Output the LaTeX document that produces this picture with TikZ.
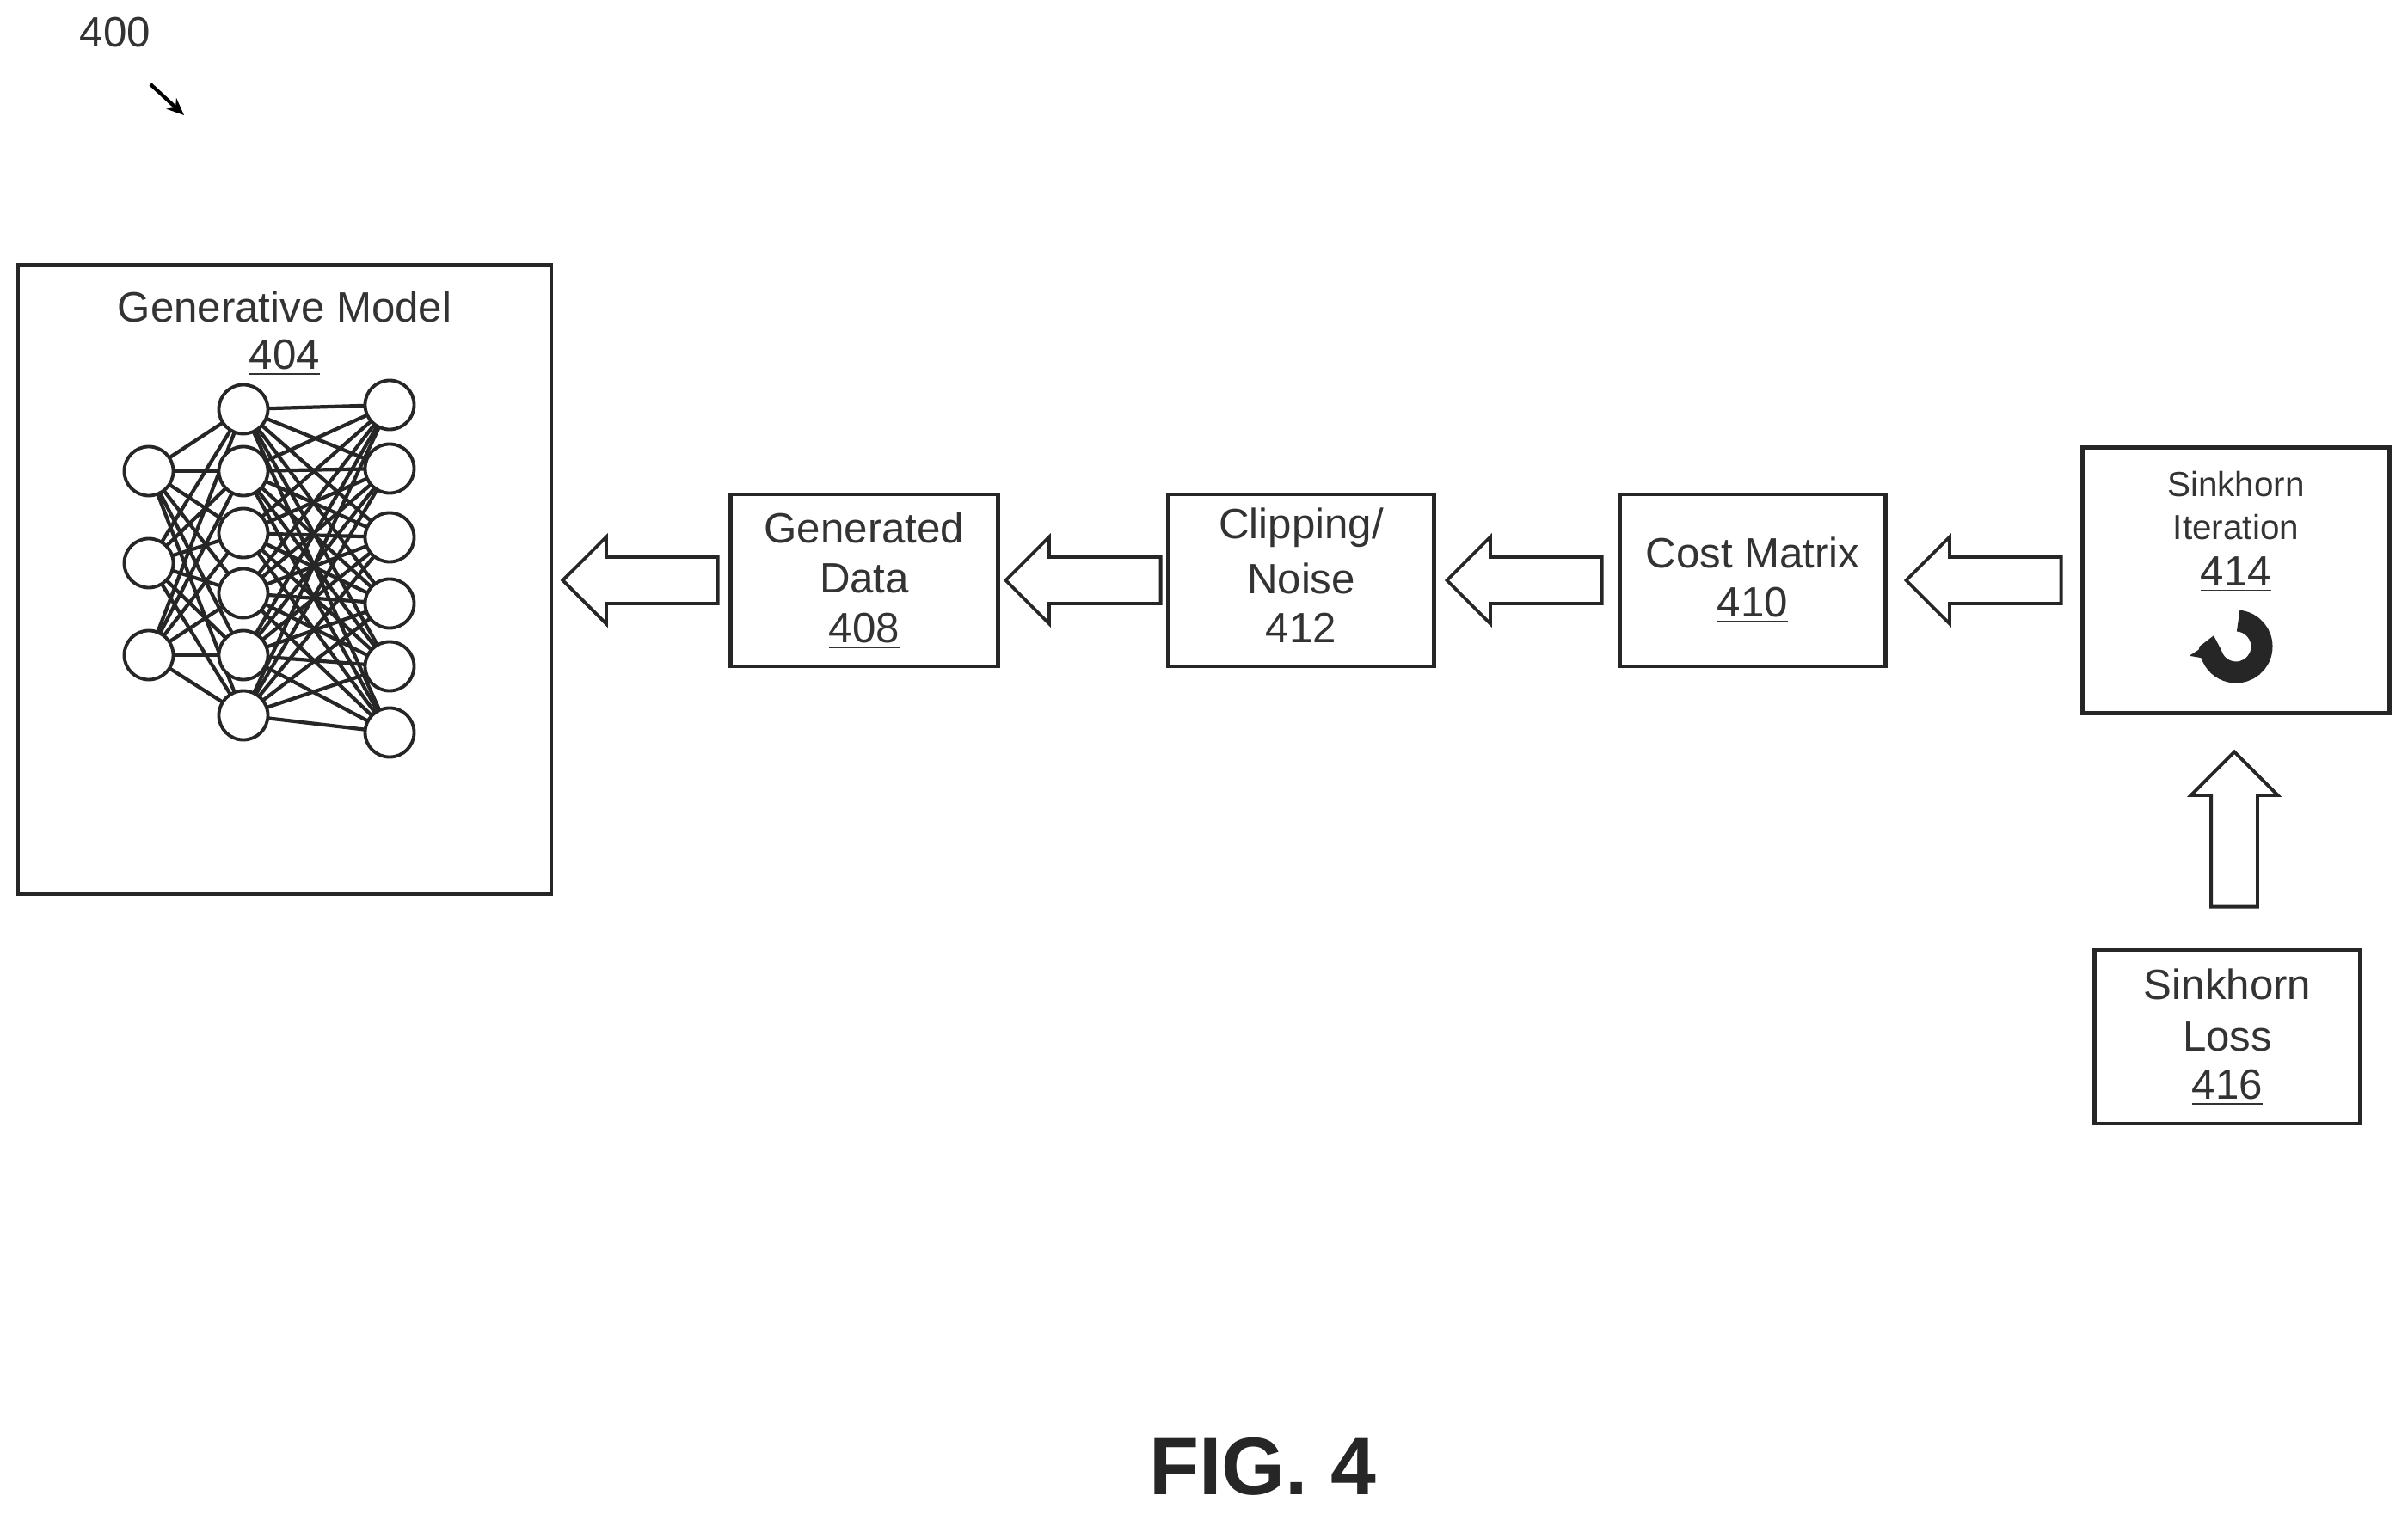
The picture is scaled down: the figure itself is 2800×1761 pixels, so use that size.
\documentclass[tikz,border=0pt]{standalone}
\usepackage{fontspec}
\setmainfont{Liberation Sans}
\usetikzlibrary{shapes.arrows,arrows.meta}
\begin{document}
\begin{tikzpicture}[x=0.01cm,y=-0.01cm,
  box/.style={draw=black!85,line width=1.3pt,inner sep=0pt},
  lbl/.style={text=black!80,font=\fontsize{14}{17}\selectfont,align=center},
  blk/.style={single arrow,draw=black!85,line width=1.1pt,
    single arrow head extend=0.235cm,single arrow head indent=0pt,inner sep=0pt,
    minimum height=1.8cm},
  neu/.style={circle,draw=black!85,line width=1.1pt,minimum size=0.57cm,inner sep=0pt,fill=white},
  edge/.style={draw=black!85,line width=1.2pt}]
\useasboundingbox (0,0) rectangle (2800,1761);
% label 400
\node[lbl] (n400) at (134,38) {400};
\coordinate (a400) at (214,134);
\draw[line width=1.2pt,-{Stealth[length=0.2cm,width=0.17cm]}] (175,98) -- (a400);
% boxes
\node[box,minimum width=6.2cm,minimum height=7.3cm] (gm) at (331,674) {};
\node[lbl] (gmt) at (331,357) {Generative Model};
\node[lbl] (gmn) at (331,416) {\underline{404}};
\node[box,minimum width=3.11cm,minimum height=2cm] (gd) at (1005,675) {};
\node[lbl] at (1005,614) {Generated};
\node[lbl] at (1005,673) {Data};
\node[lbl] at (1005,734) {\underline{408}};
\node[box,minimum width=3.09cm,minimum height=2cm] (cn) at (1513,675) {};
\node[lbl] at (1513,614) {Clipping/};
\node[lbl] at (1513,673) {Noise};
\node[lbl] at (1513,734) {\underline{412}};
\node[box,minimum width=3.09cm,minimum height=2cm] (cm) at (2038,675) {};
\node[lbl] at (2038,643) {Cost Matrix};
\node[lbl] at (2038,704) {\underline{410}};
\node[box,minimum width=3.57cm,minimum height=3.09cm] (si) at (2600,675) {};
\node[lbl,font=\fontsize{11.5}{14}\selectfont] at (2600,563) {Sinkhorn};
\node[lbl,font=\fontsize{11.5}{14}\selectfont] at (2600,613) {Iteration};
\node[lbl] at (2600,668) {\underline{414}};
\node[box,minimum width=3.09cm,minimum height=2.02cm] (sl) at (2590,1206) {};
\node[lbl] at (2590,1145) {Sinkhorn};
\node[lbl] at (2590,1206) {Loss};
\node[lbl] at (2590,1265) {\underline{416}};
% icon
\draw[line width=0.25cm,black!85,-{Triangle[length=0.2cm,width=0.42cm]}] (2600,752) ++(-85:30) arc[start angle=-85,end angle=190,radius=30];
% block arrows
\node[blk,rotate=180] (b1) at (758,675) {\rule{0pt}{0.5cm}};
\node[blk,rotate=180] (b2) at (1273,675) {\rule{0pt}{0.5cm}};
\node[blk,rotate=180] (b3) at (1786,675) {\rule{0pt}{0.5cm}};
\node[blk,rotate=180] (b4) at (2320,675) {\rule{0pt}{0.5cm}};
\node[blk,rotate=90] (b5) at (2598,978) {\rule{0pt}{0.5cm}};
% neural net
\foreach \i/\y in {1/548,2/655,3/762} \coordinate (L\i) at (173,\y);
\foreach \i/\y in {1/476,2/548,3/620,4/690,5/762,6/832} \coordinate (M\i) at (283,\y);
\foreach \i/\y in {1/471,2/545,3/625,4/702,5/775,6/852} \coordinate (R\i) at (453,\y);
\foreach \i in {1,2,3} \foreach \j in {1,...,6} \draw[edge] (L\i) -- (M\j);
\foreach \i in {1,...,6} \foreach \j in {1,...,6} \draw[edge] (M\i) -- (R\j);
\foreach \i in {1,2,3} \node[neu] (l\i) at (L\i) {};
\foreach \i in {1,...,6} \node[neu] (m\i) at (M\i) {};
\foreach \i in {1,...,6} \node[neu] (r\i) at (R\i) {};
% fig
\node[font=\bfseries\fontsize{27}{30}\selectfont,text=black!85] (fig) at (1468,1706) {FIG. 4};
\end{tikzpicture}
\end{document}
